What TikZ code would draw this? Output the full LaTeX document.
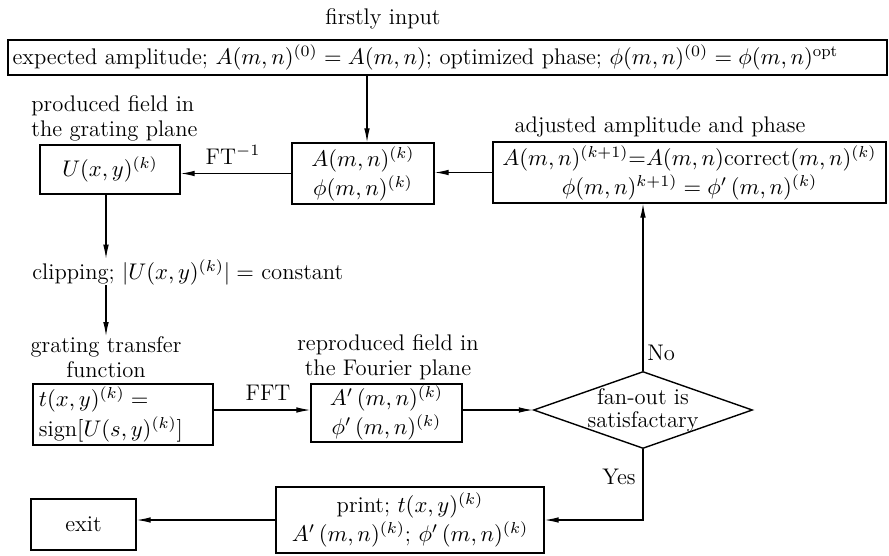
\RequirePackage{fix-cm}
\documentclass[tikz,border=0pt]{standalone}
\usepackage{fontspec}
\usetikzlibrary{arrows.meta,shapes.geometric}
\tikzset{
  every node/.style={font=\fontsize{11.3}{12.5}\selectfont},
  boxfont/.style={font=\fontsize{11.3}{14.5}\selectfont},
  sz/.style 2 args={minimum width=#1*0.5pt, minimum height=#2*0.5pt},
  box/.style={draw, line width=0.7pt, inner sep=0.5pt, align=center, boxfont},
  lbl/.style={inner sep=0pt, align=center},
  arr/.style={line width=0.55pt, -{Latex[length=7pt,width=2.8pt]}},
  dia/.style={draw, line width=0.7pt, diamond, inner sep=0pt, sz={219}{77}, aspect=2.84}
}
\begin{document}
\begin{tikzpicture}[x=0.5pt,y=-0.5pt]
\useasboundingbox (0,0) rectangle (889,556);
% labels and boxes
\node[lbl] (first) at (383,19) {firstly input};
\node[box, sz={879}{35}, align=left, text width=870*0.5pt] (top) at (447.5,57.5)
  {expected amplitude; $A(m,n)^{(0)}=A(m,n)$; optimized phase; $\phi(m,n)^{(0)}=\phi(m,n)^{\mathrm{opt}}$};
\node[lbl, align=left, anchor=west] (plabel) at (31,118) {produced field in\\the grating plane};
\node[box, sz={140}{49}] (u) at (110,169.5) {$U(x,y)^{(k)}$};
\node[box, sz={142}{61}] (a) at (363,173.5) {$A(m,n)^{(k)}$\\$\phi(m,n)^{(k)}$};
\node[lbl] (alabel) at (660,127) {adjusted amplitude and phase};
\node[box, sz={393}{61}, inner sep=0pt] (adj) at (689.5,172.5)
  {$A(m,n)^{(k+1)}{=}A(m,n)\mathrm{correct}(m,n)^{(k)}$\\$\phi(m,n)^{k+1)}=\phi'\,(m,n)^{(k)}$};
\node[lbl, anchor=west] (clip) at (32,272) {clipping; $|U(x,y)^{(k)}|=$ constant};
\node[lbl] (glabel) at (106,357) {grating transfer\\function};
\node[box, sz={180}{61}, align=left, inner xsep=1.5pt, inner ysep=0pt, text width=168*0.5pt,
      font=\fontsize{11.3}{15}\selectfont] (g) at (123,414.5)
  {$t(x,y)^{(k)}=$\\sign$\bigl[U(s,y)^{(k)}\bigr]$};
\node[lbl] (rlabel) at (388,357) {reproduced field in\\the Fourier plane};
\node[box, sz={151}{58}] (r) at (386.5,413) {$A'\,(m,n)^{(k)}$\\$\phi'\,(m,n)^{(k)}$};
\node[dia] (d) at (643,410) {};
\node[lbl, font=\fontsize{11.3}{11.5}\selectfont] (dtext) at (d) {fan-out is\\satisfactary};
\node[box, sz={268}{66}] (p) at (410,520)
  {print; $t(x,y)^{(k)}$\\$A'\,(m,n)^{(k)}$; $\phi'\,(m,n)^{(k)}$};
\node[box, sz={105}{51}] (e) at (83.5,524.5) {exit};
% connectors
\draw[arr] ([xshift=2pt]a.north |- top.south) -- ([xshift=2pt]a.north);
\draw[arr] (a.west) -- (a.west -| u.east);
\draw[arr] (adj.west) -- (adj.west -| a.east);
\draw[arr] ([xshift=-2pt]u.south) -- ([xshift=-2pt]u.south |- clip.north);
\draw[arr] ([xshift=-2pt]u.south |- clip.south) -- ([xshift=-2pt]u.south |- glabel.north);
\draw[arr] (d.west -| g.east) -- (d.west -| r.west);
\draw[arr] (d.west -| r.east) -- (d.west);
\draw[arr] (d.north) -- (d.north |- adj.south);
\draw[arr] (d.south) |- (p.east);
\draw[arr] (p.west) -- (p.west -| e.east);
% connector labels
\node[lbl] (ft) at (233,155) {FT$^{-1}$};
\node[lbl] (fft) at (268,393) {FFT};
\node[lbl, anchor=west] (no) at (647,353) {No};
\node[lbl, anchor=east] (yes) at (636,477) {Yes};
\end{tikzpicture}
\end{document}
